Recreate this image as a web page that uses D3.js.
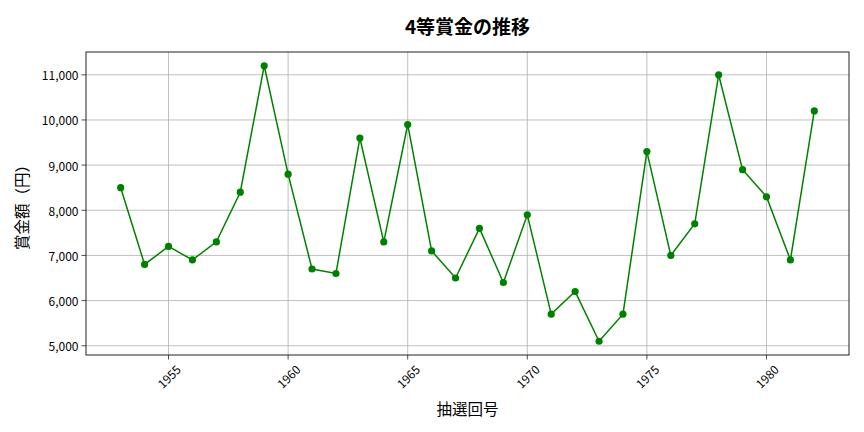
<!DOCTYPE html>
<html><head><meta charset="utf-8">
<script src="https://cdn.jsdelivr.net/npm/d3@7"></script>
<style>body{margin:0;background:#fff;} text{font-family:"Noto Sans CJK JP","Noto Sans",sans-serif;}</style>
</head><body><svg id="c" width="864" height="432"></svg>
<script>
const years = [1953,1954,1955,1956,1957,1958,1959,1960,1961,1962,1963,1964,1965,1966,1967,1968,1969,1970,1971,1972,1973,1974,1975,1976,1977,1978,1979,1980,1981,1982];
const prizes = [8500,6800,7200,6900,7300,8400,11200,8800,6700,6600,9600,7300,9900,7100,6500,7600,6400,7900,5700,6200,5100,5700,9300,7000,7700,11000,8900,8300,6900,10200];
const xTicks = [1955,1960,1965,1970,1975,1980];
const yTicks = [5000,6000,7000,8000,9000,10000,11000];
const title = "4等賞金の推移";
const xLabel = "抽選回号";
const yLabel = "賞金額（円）";

const svg = d3.select("#c");
const L=86, R=849, T=52, B=355;
const x = d3.scaleLinear().domain([1951.55,1983.45]).range([L,R]);
const y = d3.scaleLinear().domain([4795,11505]).range([B,T]);

const g = svg.append("g");
// grid
g.selectAll(".gx").data(xTicks).enter().append("line")
 .attr("x1",d=>x(d)).attr("x2",d=>x(d)).attr("y1",T).attr("y2",B)
 .attr("stroke","#b0b0b0").attr("stroke-width",0.8);
g.selectAll(".gy").data(yTicks).enter().append("line")
 .attr("y1",d=>y(d)).attr("y2",d=>y(d)).attr("x1",L).attr("x2",R)
 .attr("stroke","#b0b0b0").attr("stroke-width",0.8);

// ticks
g.selectAll(".tx").data(xTicks).enter().append("line")
 .attr("x1",d=>x(d)).attr("x2",d=>x(d)).attr("y1",B).attr("y2",B+4.5)
 .attr("stroke","#222").attr("stroke-width",0.8);
g.selectAll(".ty").data(yTicks).enter().append("line")
 .attr("y1",d=>y(d)).attr("y2",d=>y(d)).attr("x1",L).attr("x2",L-4.5)
 .attr("stroke","#222").attr("stroke-width",0.8);

const fmt = d3.format(",");
g.selectAll(".lx").data(xTicks).enter().append("text")
 .attr("transform",d=>`translate(${x(d)},376) rotate(-45)`)
 .attr("text-anchor","middle").attr("dominant-baseline","central")
 .attr("font-size",12).attr("fill","#000").text(d=>d);
g.selectAll(".ly").data(yTicks).enter().append("text")
 .attr("x",L-7.5).attr("y",d=>y(d)).attr("text-anchor","end").attr("dominant-baseline","central")
 .attr("font-size",12).attr("fill","#000").text(d=>fmt(d));

// line
const line = d3.line().x((d,i)=>x(years[i])).y(d=>y(d));
g.append("path").datum(prizes).attr("d",line).attr("fill","none")
 .attr("stroke","#008000").attr("stroke-width",1.5);
g.selectAll(".pt").data(prizes).enter().append("circle")
 .attr("cx",(d,i)=>x(years[i])).attr("cy",d=>y(d)).attr("r",3.6).attr("fill","#008000");

// frame
g.append("rect").attr("x",L).attr("y",T).attr("width",R-L).attr("height",B-T)
 .attr("fill","none").attr("stroke","#222").attr("stroke-width",1);

svg.append("text").attr("x",(L+R)/2).attr("y",25).attr("text-anchor","middle").attr("dominant-baseline","central")
 .attr("font-size",19).attr("font-weight","bold").text(title);
svg.append("text").attr("x",(L+R)/2).attr("y",408).attr("text-anchor","middle").attr("dominant-baseline","central")
 .attr("font-size",15.5).text(xLabel);
svg.append("text").attr("transform",`translate(21,${(T+B)/2}) rotate(-90)`).attr("text-anchor","middle").attr("dominant-baseline","central")
 .attr("font-size",15.5).text(yLabel);
</script></body></html>
